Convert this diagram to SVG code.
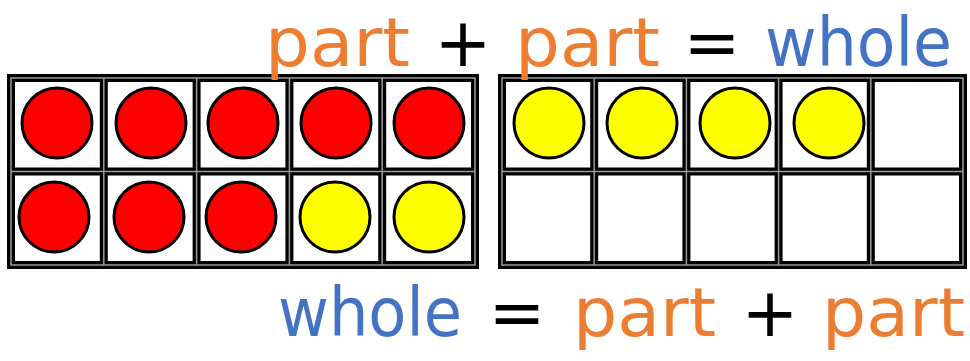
<svg xmlns="http://www.w3.org/2000/svg" width="970" height="361" viewBox="0 0 970 361">
<style>
.frame{fill:#000}
.cell{fill:#fff}
.mid{fill:none;stroke:#9a9a9a;stroke-width:1.5}
.red{fill:#ff0000;stroke:#000;stroke-width:3}
.yel{fill:#ffff00;stroke:#000;stroke-width:3}
.t{font-family:"DejaVu Sans","Liberation Sans",sans-serif;font-size:68px}
.o{fill:#ED7D31}
.b{fill:#4472C4}
.k{fill:#000}
</style>
<rect width="970" height="361" fill="#fff"/>
<g id="frame-left">
<rect class="frame" x="7" y="74" width="472" height="195"/>
<path class="mid" d="M11 78H475V265H11Z M103.8 78V265 M196.6 78V265 M289.4 78V265 M382.2 78V265 M11 171.5H475"/>
<rect class="cell" x="15" y="82" width="84.8" height="85.5"/>
<rect class="cell" x="107.8" y="82" width="84.8" height="85.5"/>
<rect class="cell" x="200.6" y="82" width="84.8" height="85.5"/>
<rect class="cell" x="293.4" y="82" width="84.8" height="85.5"/>
<rect class="cell" x="386.2" y="82" width="84.8" height="85.5"/>
<rect class="cell" x="15" y="175.5" width="84.8" height="85.5"/>
<rect class="cell" x="107.8" y="175.5" width="84.8" height="85.5"/>
<rect class="cell" x="200.6" y="175.5" width="84.8" height="85.5"/>
<rect class="cell" x="293.4" y="175.5" width="84.8" height="85.5"/>
<rect class="cell" x="386.2" y="175.5" width="84.8" height="85.5"/>
<circle class="red" cx="57" cy="123" r="35"/>
<circle class="red" cx="151" cy="123" r="35"/>
<circle class="red" cx="243" cy="123" r="35"/>
<circle class="red" cx="336" cy="123" r="35"/>
<circle class="red" cx="429" cy="123" r="35"/>
<circle class="red" cx="54" cy="217" r="35"/>
<circle class="red" cx="149" cy="217" r="35"/>
<circle class="red" cx="241" cy="217" r="35"/>
<circle class="yel" cx="335" cy="217" r="35"/>
<circle class="yel" cx="429" cy="217" r="35"/>
</g>
<g id="frame-right">
<rect class="frame" x="498" y="74" width="469" height="195"/>
<path class="mid" d="M502 78H963V265H502Z M594.2 78V265 M686.4 78V265 M778.6 78V265 M870.8 78V265 M502 171.5H963"/>
<rect class="cell" x="506" y="82" width="84.2" height="85.5"/>
<rect class="cell" x="598.2" y="82" width="84.2" height="85.5"/>
<rect class="cell" x="690.4" y="82" width="84.2" height="85.5"/>
<rect class="cell" x="782.6" y="82" width="84.2" height="85.5"/>
<rect class="cell" x="874.8" y="82" width="84.2" height="85.5"/>
<rect class="cell" x="506" y="175.5" width="84.2" height="85.5"/>
<rect class="cell" x="598.2" y="175.5" width="84.2" height="85.5"/>
<rect class="cell" x="690.4" y="175.5" width="84.2" height="85.5"/>
<rect class="cell" x="782.6" y="175.5" width="84.2" height="85.5"/>
<rect class="cell" x="874.8" y="175.5" width="84.2" height="85.5"/>
<circle class="yel" cx="549" cy="123" r="35"/>
<circle class="yel" cx="642" cy="123" r="35"/>
<circle class="yel" cx="735" cy="123" r="35"/>
<circle class="yel" cx="829" cy="123" r="35"/>
</g>
<g id="equation-top">
<text class="t o" x="265" y="66" textLength="145" lengthAdjust="spacingAndGlyphs">part</text>
<text class="t k" x="463" y="66" text-anchor="middle">+</text>
<text class="t o" x="515" y="66" textLength="145" lengthAdjust="spacingAndGlyphs">part</text>
<text class="t k" x="712" y="66" text-anchor="middle">=</text>
<text class="t b" x="765" y="66" textLength="187" lengthAdjust="spacingAndGlyphs">whole</text>
</g>
<g id="equation-bottom">
<text class="t b" x="278" y="336" textLength="184" lengthAdjust="spacingAndGlyphs">whole</text>
<text class="t k" x="517" y="336" text-anchor="middle">=</text>
<text class="t o" x="573" y="336" textLength="143" lengthAdjust="spacingAndGlyphs">part</text>
<text class="t k" x="770" y="336" text-anchor="middle">+</text>
<text class="t o" x="822" y="336" textLength="143" lengthAdjust="spacingAndGlyphs">part</text>
</g>
</svg>
